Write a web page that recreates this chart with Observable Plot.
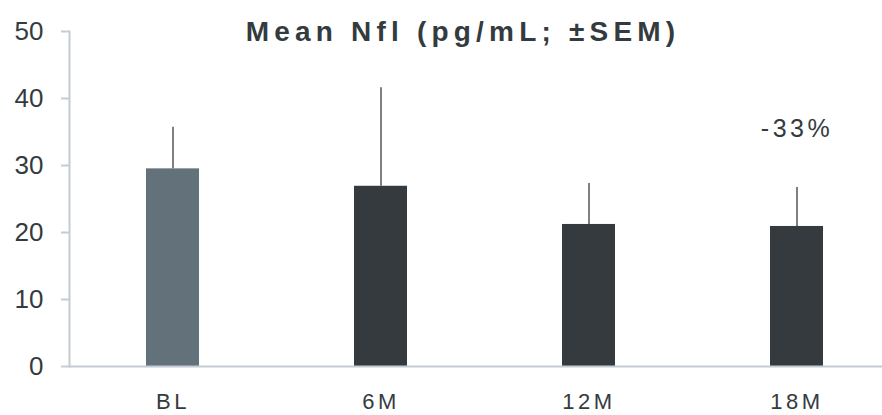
<!DOCTYPE html>
<html>
<head>
<meta charset="utf-8">
<script src="https://cdn.jsdelivr.net/npm/d3@7"></script>
<script src="https://cdn.jsdelivr.net/npm/@observablehq/plot@0.6"></script>
<style>
  html, body { margin: 0; padding: 0; background: #fff; }
  #chart svg { display: block; }
  g[aria-label="x-axis tick label"] text { letter-spacing: 3.5px; }
  .title-mark text { letter-spacing: 5.2px; }
  .note-mark text { letter-spacing: 3.5px; }
</style>
</head>
<body>
<div id="chart"></div>
<script>
// ---- data ----
const categories = ["BL", "6M", "12M", "18M"];
const means = [29.5, 26.9, 21.2, 20.9];
const sems = [6.2, 14.7, 6.1, 5.8];
const yTicks = [0, 10, 20, 30, 40, 50];
const titleText = "Mean Nfl (pg/mL; \u00B1SEM)";
const noteCategory = ["18M"];
const noteValue = [35.5];
const noteText = ["-33%"];

const rows = categories.map((c, i) => ({cat: c, mean: means[i], top: means[i] + sems[i]}));
const notes = noteCategory.map((c, i) => ({cat: c, v: noteValue[i], t: noteText[i]}));

const axisColor = "#c3ccd5";
const textColor = "#343b3f";

const chart = Plot.plot({
  width: 882,
  height: 415,
  marginTop: 31,
  marginBottom: 49,
  marginLeft: 69,
  marginRight: 0,
  style: {fontFamily: "'Liberation Sans', Arial, sans-serif", background: "#fff", overflow: "visible"},
  x: {domain: categories, range: [69, 901], paddingInner: 0.745, paddingOuter: 0.3725, label: null},
  y: {domain: [0, 50], label: null},
  marks: [
    Plot.barY(rows, {x: "cat", y: "mean", fill: d => d.cat === "BL" ? "#63727a" : "#343a3d"}),
    Plot.ruleX(rows, {x: "cat", y1: "mean", y2: "top", stroke: "#555555", strokeWidth: 1.5}),
    Plot.frame({anchor: "left", stroke: axisColor, strokeWidth: 2}),
    Plot.ruleY([0], {stroke: axisColor, strokeWidth: 2}),
    Plot.axisY({ticks: yTicks, text: null, tickSize: 8, stroke: axisColor, strokeWidth: 2}),
    Plot.axisY({ticks: yTicks, tickSize: 0, tickPadding: 26, fill: textColor, fontSize: 26, label: null}),
    Plot.axisX({tickSize: 0, tickPadding: 27, fill: textColor, fontSize: 22, label: null}),
    Plot.text([titleText], {text: d => d, frameAnchor: "top", dx: -13, dy: 1, lineAnchor: "middle",
      fontSize: 28, fontWeight: "bold", fill: textColor, className: "title-mark"}),
    Plot.text(notes, {x: "cat", y: "v", text: "t", fontSize: 25, fill: textColor, className: "note-mark"})
  ]
});
document.getElementById("chart").appendChild(chart);
</script>
</body>
</html>
